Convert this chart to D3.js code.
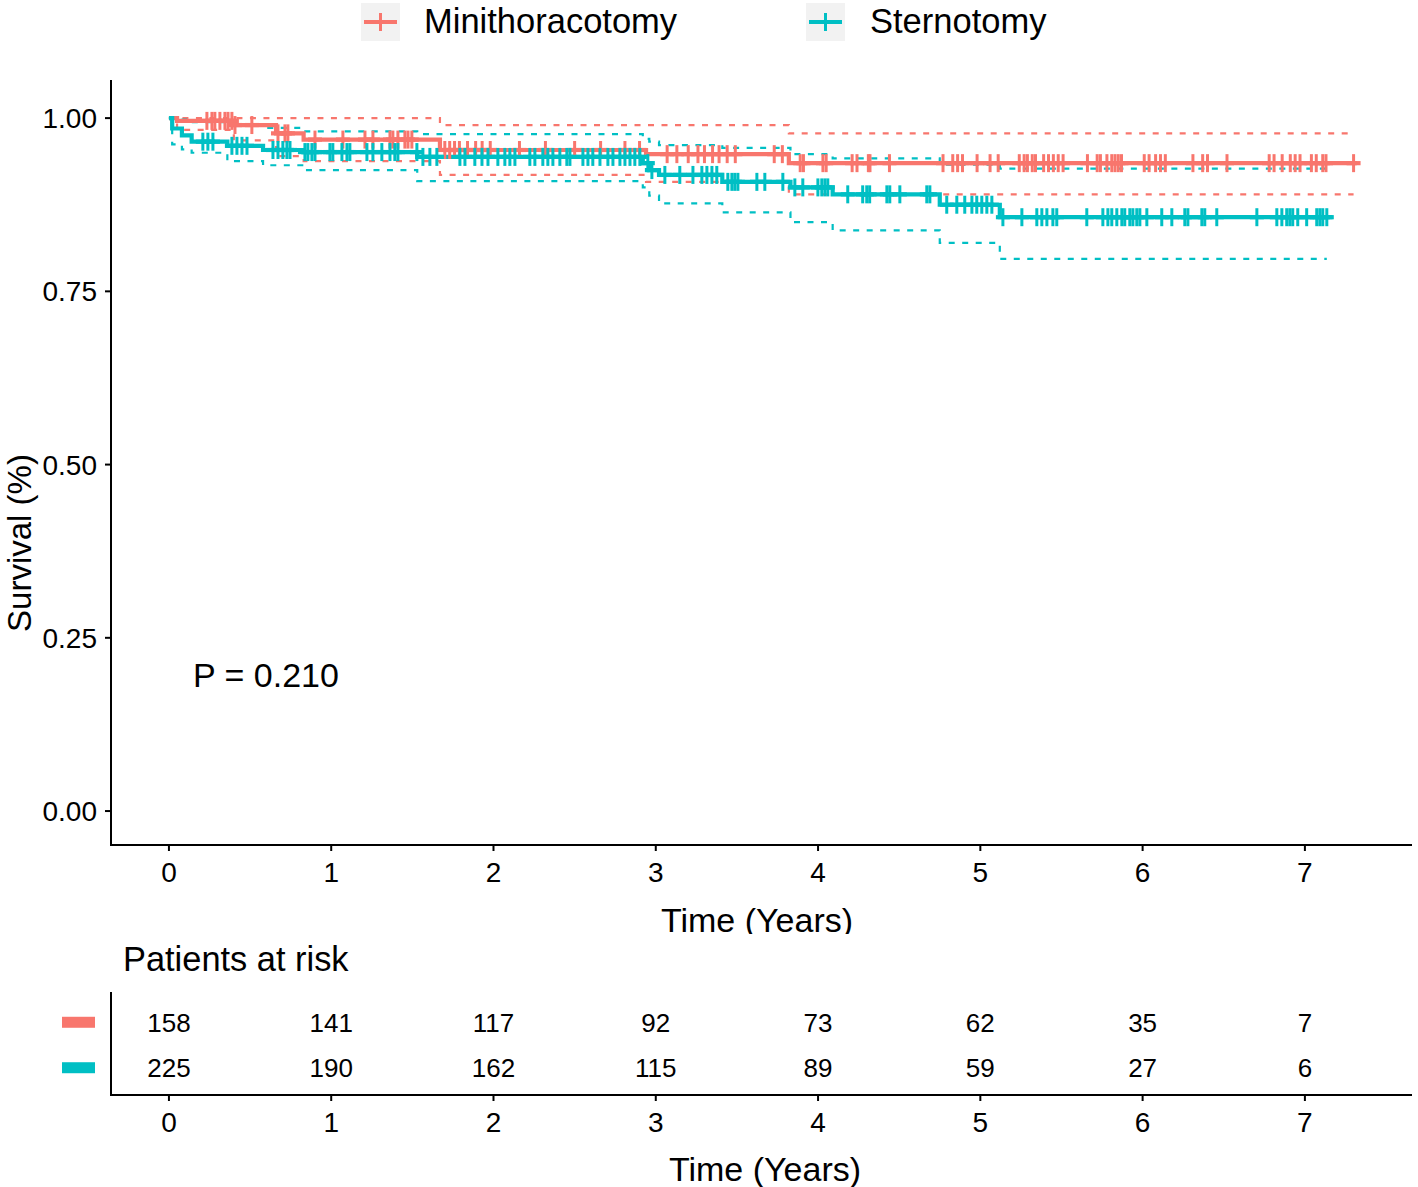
<!DOCTYPE html>
<html><head><meta charset="utf-8">
<script src="https://cdn.jsdelivr.net/npm/d3@7"></script>
<style>
body{margin:0;background:#fff}
svg{display:block}
text{font-family:"Liberation Sans",Arial,Helvetica,sans-serif;fill:#000}
</style>
</head><body><div id="chart"></div>
<script>
// ---------- DATA ----------
const groups = ["Minithoracotomy", "Sternotomy"];
const colors = ["#F8766D", "#00BFC4"];

// Minithoracotomy step curve (time in years, survival)
const miniTimes = [0, 0.05, 0.40, 0.66, 0.83, 1.67, 2.94, 3.82];
const miniSurv  = [1, 0.996, 0.990, 0.978, 0.969, 0.954, 0.948, 0.935];
const miniUpper = [1, 1, 1, 1, 1, 0.990, 0.990, 0.978];
const miniLower = [1, 0.983, 0.968, 0.945, 0.938, 0.918, 0.908, 0.890];
const miniEnd = 7.32;
const miniCensor = [0.234,0.265,0.283,0.314,0.345,0.364,0.388,0.407,0.511,0.672,0.715,0.733,0.900,1.072,1.208,1.257,1.362,1.380,1.411,1.454,1.473,1.497,
  1.70,1.73,1.76,1.79,1.84,1.89,1.93,1.98,2.16,2.32,2.50,2.66,2.81,2.90,
  3.07,3.13,3.20,3.26,3.30,3.35,3.39,3.44,3.49,3.73,3.78,
  3.89,3.91,4.03,4.05,4.21,4.24,4.31,4.32,4.44,4.77,4.83,4.86,4.89,4.98,5.06,5.11,
  5.24,5.27,5.29,5.32,5.34,5.39,5.42,5.45,5.48,5.51,5.66,5.72,5.74,5.78,5.81,5.83,5.85,5.87,
  6.01,6.04,6.08,6.11,6.14,6.31,6.37,6.40,6.52,6.78,6.81,6.86,6.91,6.94,6.97,7.04,7.07,7.11,7.13,7.30];

// Sternotomy step curve
const sternTimes = [0, 0.02, 0.08, 0.14, 0.36, 0.58, 0.83, 1.53, 2.92, 2.96, 3.02, 3.41, 3.83, 4.09, 4.75, 5.12];
const sternSurv  = [1, 0.985, 0.975, 0.966, 0.960, 0.954, 0.951, 0.944, 0.935, 0.925, 0.918, 0.908, 0.900, 0.890, 0.875, 0.857];
const sternUpper = [1, 1, 0.998, 0.994, 0.990, 0.986, 0.981, 0.977, 0.970, 0.966, 0.961, 0.957, 0.948, 0.942, 0.933, 0.927];
const sternLower = [1, 0.962, 0.955, 0.950, 0.938, 0.932, 0.925, 0.909, 0.900, 0.888, 0.877, 0.864, 0.850, 0.838, 0.820, 0.797];
const sternEnd = 7.17;
const sternCensor = [0.209,0.240,0.271,0.388,0.419,0.450,0.481,0.641,0.672,0.702,0.727,0.746,0.838,0.856,0.881,0.900,0.992,1.010,1.066,1.097,1.115,
  1.220,1.257,1.312,1.362,1.392,1.411,1.528,1.565,1.608,1.651,1.793,1.824,1.885,1.929,1.966,2.027,2.070,2.101,2.132,
  2.224,2.255,2.304,2.335,2.366,2.409,2.452,2.471,2.551,2.582,2.612,2.656,2.705,2.736,2.779,2.810,2.841,2.871,2.902,2.951,2.976,
  3.056,3.148,3.229,3.284,3.315,3.346,3.376,3.444,3.469,3.487,3.506,3.623,3.672,3.783,
  3.857,3.906,3.999,4.023,4.042,4.060,4.183,4.275,4.300,4.318,4.424,4.442,4.504,4.670,4.689,
  4.793,4.855,4.904,4.948,4.978,5.009,5.040,5.071,
  5.139,5.256,5.348,5.379,5.410,5.447,5.471,5.656,5.755,5.786,5.810,5.841,5.872,5.890,5.921,5.940,5.964,5.983,6.026,
  6.118,6.180,6.260,6.279,6.365,6.383,6.457,6.704,6.827,6.858,6.888,6.907,6.925,6.956,7.011,7.073,7.092,7.110,7.135];

const xTicks = [0,1,2,3,4,5,6,7];
const yTicks = [0, 0.25, 0.5, 0.75, 1.0];
const yTickLabels = ["0.00","0.25","0.50","0.75","1.00"];
const riskMini  = [158,141,117,92,73,62,35,7];
const riskStern = [225,190,162,115,89,59,27,6];
const pValueText = "P = 0.210";

// ---------- LAYOUT ----------
const W = 1418, H = 1187;
const svg = d3.select("#chart").append("svg").attr("width", W).attr("height", H);
svg.append("rect").attr("width", W).attr("height", H).attr("fill", "#fff");

const panel = {left: 111, right: 1412, top: 80, bottom: 845};
const x = d3.scaleLinear().domain([-0.357, 7.66]).range([panel.left, panel.right]);
const y = d3.scaleLinear().domain([-0.049, 1.055]).range([panel.bottom, panel.top]);

const series = [
  {name: groups[0], color: colors[0], times: miniTimes, surv: miniSurv, upper: miniUpper, lower: miniLower, end: miniEnd, ciEnd: 7.30, censor: miniCensor, risk: riskMini},
  {name: groups[1], color: colors[1], times: sternTimes, surv: sternSurv, upper: sternUpper, lower: sternLower, end: sternEnd, ciEnd: 7.135, censor: sternCensor, risk: riskStern}
];

const stepLine = d3.line().x(d => x(d[0])).y(d => y(d[1])).curve(d3.curveStepAfter);
function pts(times, vals, end) {
  const p = times.map((t, i) => [t, vals[i]]);
  p.push([end, vals[vals.length - 1]]);
  return p;
}
function valueAt(times, vals, t) {
  const i = Math.max(0, d3.bisectRight(times, t) - 1);
  return vals[i];
}

// ---------- CI ----------
const gCI = svg.append("g");
series.forEach(s => {
  [s.upper, s.lower].forEach(v => {
    gCI.append("path").attr("d", stepLine(pts(s.times, v, s.ciEnd)))
      .attr("fill", "none").attr("stroke", s.color).attr("stroke-width", 2.2)
      .attr("stroke-dasharray", "6,7.5");
  });
});
// ---------- curves ----------
series.forEach(s => {
  svg.append("path").attr("d", stepLine(pts(s.times, s.surv, s.end)))
    .attr("fill", "none").attr("stroke", s.color).attr("stroke-width", 4.2);
});
// ---------- censor marks ----------
series.forEach(s => {
  const g = svg.append("g").attr("stroke", s.color).attr("stroke-width", 3);
  s.censor.forEach(t => {
    const cx = x(t), cy = y(valueAt(s.times, s.surv, t));
    g.append("line").attr("x1", cx).attr("x2", cx).attr("y1", cy - 9).attr("y2", cy + 9);
    g.append("line").attr("x1", cx - 7).attr("x2", cx + 7).attr("y1", cy).attr("y2", cy).attr("stroke-width", 4.2);
  });
});

// ---------- axes main ----------
const axisG = svg.append("g").attr("stroke", "#000").attr("stroke-width", 2);
axisG.append("line").attr("x1", panel.left).attr("x2", panel.left).attr("y1", panel.top).attr("y2", panel.bottom + 1);
axisG.append("line").attr("x1", panel.left - 1).attr("x2", panel.right).attr("y1", panel.bottom).attr("y2", panel.bottom);
yTicks.forEach((v, i) => {
  axisG.append("line").attr("x1", panel.left - 6).attr("x2", panel.left).attr("y1", y(v)).attr("y2", y(v));
  svg.append("text").attr("x", 97).attr("y", y(v)).attr("dy", "0.36em").attr("text-anchor", "end")
    .attr("font-size", 28).text(yTickLabels[i]);
});
xTicks.forEach(v => {
  axisG.append("line").attr("x1", x(v)).attr("x2", x(v)).attr("y1", panel.bottom).attr("y2", panel.bottom + 6);
  svg.append("text").attr("x", x(v)).attr("y", 872).attr("dy", "0.36em").attr("text-anchor", "middle")
    .attr("font-size", 28).text(v);
});
// x title (clipped at bottom like reference)
svg.append("clipPath").attr("id", "clipTitle").append("rect").attr("x", 0).attr("y", 890).attr("width", W).attr("height", 44);
svg.append("text").attr("x", 757).attr("y", 932).attr("text-anchor", "middle").attr("font-size", 34)
  .attr("clip-path", "url(#clipTitle)").text("Time (Years)");
// y title
svg.append("text").attr("transform", "translate(31,543) rotate(-90)").attr("text-anchor", "middle")
  .attr("font-size", 33).text("Survival (%)");
// p-value
svg.append("text").attr("x", 193).attr("y", 687).attr("font-size", 34).text(pValueText);

// ---------- legend ----------
const legendPos = [{kx: 361, tx: 424}, {kx: 806, tx: 870}];
series.forEach((s, i) => {
  const lp = legendPos[i];
  svg.append("rect").attr("x", lp.kx).attr("y", 3).attr("width", 39).attr("height", 38).attr("fill", "#F2F2F2");
  svg.append("line").attr("x1", lp.kx + 3).attr("x2", lp.kx + 36).attr("y1", 22).attr("y2", 22)
    .attr("stroke", s.color).attr("stroke-width", 4);
  svg.append("line").attr("x1", lp.kx + 19.5).attr("x2", lp.kx + 19.5).attr("y1", 13).attr("y2", 31)
    .attr("stroke", s.color).attr("stroke-width", 3);
  svg.append("text").attr("x", lp.tx).attr("y", 33).attr("font-size", 34.5).text(s.name);
});

// ---------- risk table ----------
svg.append("text").attr("x", 123).attr("y", 971).attr("font-size", 34.4).text("Patients at risk");
const tPanel = {top: 995, bottom: 1095};
const yRow = d3.scaleBand().domain(groups).range([tPanel.top, tPanel.bottom]).paddingOuter(0.1).paddingInner(0);
const tAxis = svg.append("g").attr("stroke", "#000").attr("stroke-width", 2);
tAxis.append("line").attr("x1", panel.left).attr("x2", panel.left).attr("y1", 992).attr("y2", tPanel.bottom + 1);
tAxis.append("line").attr("x1", panel.left - 1).attr("x2", panel.right).attr("y1", tPanel.bottom).attr("y2", tPanel.bottom);
xTicks.forEach(v => {
  tAxis.append("line").attr("x1", x(v)).attr("x2", x(v)).attr("y1", tPanel.bottom).attr("y2", tPanel.bottom + 6);
  svg.append("text").attr("x", x(v)).attr("y", 1122).attr("dy", "0.36em").attr("text-anchor", "middle")
    .attr("font-size", 28).text(v);
});
series.forEach(s => {
  const cy = yRow(s.name) + yRow.bandwidth() / 2;
  svg.append("rect").attr("x", 62).attr("y", cy - 5.5).attr("width", 33).attr("height", 11).attr("fill", s.color);
  s.risk.forEach((n, i) => {
    svg.append("text").attr("x", x(xTicks[i])).attr("y", cy).attr("dy", "0.36em").attr("text-anchor", "middle")
      .attr("font-size", 26).text(n);
  });
});
svg.append("text").attr("x", 765).attr("y", 1181).attr("text-anchor", "middle").attr("font-size", 34).text("Time (Years)");
</script>
</body></html>
